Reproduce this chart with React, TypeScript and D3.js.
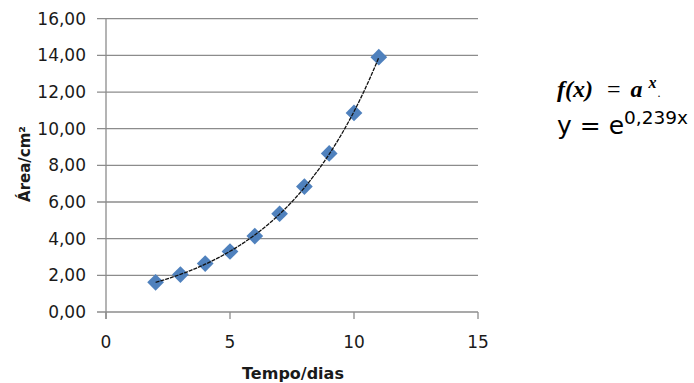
import { useEffect, useRef } from 'react';
import * as d3 from 'd3';

// measured values (Tempo/dias vs Área/cm²)
const days = [2, 3, 4, 5, 6, 7, 8, 9, 10, 11];
const areas = [1.62, 2.04, 2.64, 3.3, 4.14, 5.36, 6.84, 8.65, 10.86, 13.9];
const yTicks = [0, 2, 4, 6, 8, 10, 12, 14, 16];
const xTicks = [0, 5, 10, 15];

const W = 694;
const H = 383;

export default function App() {
  const svgRef = useRef<SVGSVGElement>(null);

  useEffect(() => {
    if (!svgRef.current) return;
    const svg = d3.select(svgRef.current);
    svg.selectAll('*').remove();

    const x = d3.scaleLinear().domain([0, 15]).range([106, 478]);
    const y = d3.scaleLinear().domain([0, 16]).range([312, 18.7]);
    const axisColor = '#8c8c8c';
    const textColor = '#1a1a1a';
    const font = '"DejaVu Sans", sans-serif';

    // gridlines + y ticks
    svg.append('g')
      .selectAll('line')
      .data(yTicks)
      .join('line')
      .attr('x1', 97)
      .attr('x2', x(15))
      .attr('y1', d => y(d))
      .attr('y2', d => y(d))
      .attr('stroke', axisColor)
      .attr('stroke-width', 1.3);

    // y axis line
    svg.append('line')
      .attr('x1', x(0)).attr('x2', x(0))
      .attr('y1', y(16)).attr('y2', y(0) + 7)
      .attr('stroke', axisColor)
      .attr('stroke-width', 1.3);

    // x ticks
    svg.append('g')
      .selectAll('line')
      .data(xTicks)
      .join('line')
      .attr('x1', d => x(d))
      .attr('x2', d => x(d))
      .attr('y1', y(0))
      .attr('y2', y(0) + 7)
      .attr('stroke', axisColor)
      .attr('stroke-width', 1.3);

    const fmt = (v: number) => v.toFixed(2).replace('.', ',');

    svg.append('g')
      .selectAll('text')
      .data(yTicks)
      .join('text')
      .attr('x', 86)
      .attr('y', d => y(d))
      .attr('dy', '0.36em')
      .attr('text-anchor', 'end')
      .attr('font-family', font)
      .attr('font-size', 17)
      .attr('fill', textColor)
      .text(d => fmt(d));

    svg.append('g')
      .selectAll('text')
      .data(xTicks)
      .join('text')
      .attr('x', d => x(d))
      .attr('y', 348)
      .attr('text-anchor', 'middle')
      .attr('font-family', font)
      .attr('font-size', 17)
      .attr('fill', textColor)
      .text(d => String(d));

    // axis titles
    svg.append('text')
      .attr('x', 293)
      .attr('y', 379)
      .attr('text-anchor', 'middle')
      .attr('font-family', font)
      .attr('font-weight', 'bold')
      .attr('font-size', 16)
      .attr('fill', textColor)
      .text('Tempo/dias');

    svg.append('text')
      .attr('transform', 'translate(30,164) rotate(-90)')
      .attr('text-anchor', 'middle')
      .attr('font-family', font)
      .attr('font-weight', 'bold')
      .attr('font-size', 15)
      .attr('fill', textColor)
      .text('Área/cm²');

    // exponential trendline (least squares on ln y)
    const lx = days;
    const ly = areas.map(v => Math.log(v));
    const mx = d3.mean(lx)!;
    const my = d3.mean(ly)!;
    const b = d3.sum(lx.map((v, i) => (v - mx) * (ly[i] - my))) / d3.sum(lx.map(v => (v - mx) ** 2));
    const a = Math.exp(my - b * mx);
    const xs = d3.range(days[0], days[days.length - 1] + 0.001, 0.1);
    const line = d3.line<number>()
      .x(d => x(d))
      .y(d => y(a * Math.exp(b * d)))
      .curve(d3.curveMonotoneX);

    // markers
    const sym = d3.symbol().type(d3.symbolSquare).size(140);
    svg.append('g')
      .selectAll('path')
      .data(days)
      .join('path')
      .attr('d', sym()!)
      .attr('transform', (d, i) => `translate(${x(d)},${y(areas[i])}) rotate(45)`)
      .attr('fill', '#4F81BD');

    svg.append('path')
      .datum(xs)
      .attr('d', line)
      .attr('fill', 'none')
      .attr('stroke', '#111')
      .attr('stroke-width', 1.3)
      .attr('stroke-dasharray', '4,1');

    // annotation
    const f = svg.append('text')
      .attr('x', 557)
      .attr('y', 97)
      .attr('font-family', '"Liberation Serif", serif')
      .attr('font-size', 24)
      .attr('fill', '#000');
    f.append('tspan').attr('font-weight', 'bold').attr('font-style', 'italic').text('f(x)');
    f.append('tspan').attr('dx', 14).text('=');
    f.append('tspan').attr('dx', 10).attr('font-weight', 'bold').attr('font-style', 'italic').text('a');
    f.append('tspan').attr('dx', 6).attr('dy', -9).attr('font-size', 16).attr('font-weight', 'bold').attr('font-style', 'italic').text('x');
    f.append('tspan').attr('dx', 1).attr('dy', 9).attr('font-size', 12).text('.');

    const e = svg.append('text')
      .attr('x', 557)
      .attr('y', 134)
      .attr('font-family', font)
      .attr('font-size', 25)
      .attr('fill', '#000');
    e.append('tspan').text('y = e');
    e.append('tspan').attr('dy', -10).attr('font-size', 18.5).text('0,239x');
  }, []);

  return (
    <svg
      ref={svgRef}
      width={W}
      height={H}
      style={{ position: 'absolute', left: 0, top: 0, background: '#fff' }}
    />
  );
}
